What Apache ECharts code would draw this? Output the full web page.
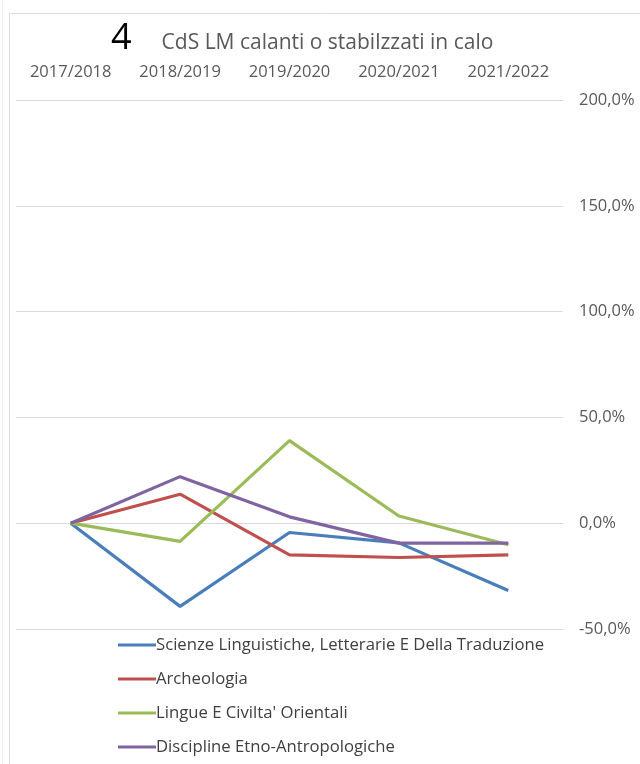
<!DOCTYPE html>
<html>
<head>
<meta charset="utf-8">
<script src="https://cdn.jsdelivr.net/npm/echarts@6/dist/echarts.min.js"></script>
<style>
html,body{margin:0;padding:0;background:#fff;}
#chart{width:640px;height:764px;}
</style>
</head>
<body>
<div id="chart"></div>
<script>
const categories = ['2017/2018', '2018/2019', '2019/2020', '2020/2021', '2021/2022'];
const seriesNames = [
  'Scienze Linguistiche, Letterarie E Della Traduzione',
  'Archeologia',
  "Lingue E Civilta' Orientali",
  'Discipline Etno-Antropologiche'
];
const scienzeLinguistiche = [0, -39.3, -4.4, -9.3, -31.8];
const archeologia = [0, 13.7, -15.0, -16.2, -15.0];
const lingueOrientali = [0, -8.6, 39.0, 3.4, -10.2];
const disciplineEtno = [0, 22.0, 3.0, -9.4, -9.4];
const seriesColors = ['#4a7ebb', '#c0504d', '#9bbb59', '#8064a2'];
const yTicks = { min: -50, max: 200, interval: 50 };

const font = 'Open Sans, Liberation Sans, sans-serif';
const dataSets = [scienzeLinguistiche, archeologia, lingueOrientali, disciplineEtno];

const chart = echarts.init(document.getElementById('chart'), null, { renderer: 'canvas' });
chart.setOption({
  backgroundColor: '#ffffff',
  animation: false,
  graphic: [
    { type: 'line', shape: { x1: 2.5, y1: 0, x2: 2.5, y2: 764 }, style: { stroke: '#efefef', lineWidth: 1 }, z: -1 },
    { type: 'rect', shape: { x: 9.5, y: 13.5, width: 700, height: 800 }, style: { fill: 'none', stroke: '#dcdcdc', lineWidth: 1 }, z: -1 }
  ],
  title: {
    left: 106,
    top: 16,
    text: '{a|4}{b|CdS LM calanti o stabilzzati in calo}',
    textStyle: {
      fontWeight: 'normal',
      rich: {
        a: { fontSize: 36, fontWeight: 'normal', color: '#000000', fontFamily: font, padding: [0, 30, 0, 0], verticalAlign: 'bottom' },
        b: { fontSize: 21, fontWeight: 'normal', color: '#595959', fontFamily: font, verticalAlign: 'bottom', padding: [0, 0, 3, 0] }
      }
    }
  },
  legend: {
    orient: 'vertical',
    left: 113,
    top: 631,
    itemWidth: 38,
    itemHeight: 14,
    itemGap: 16,
    icon: 'path://M0,5.5 L38,5.5 L38,8.5 L0,8.5 Z',
    data: seriesNames,
    textStyle: { fontSize: 16.7, lineHeight: 18, color: '#404040', fontFamily: font, padding: [0, 0, 0, -5] }
  },
  grid: { left: 16, right: 77, top: 100, bottom: 135, containLabel: false },
  xAxis: {
    type: 'category',
    position: 'top',
    data: categories,
    boundaryGap: true,
    axisLine: { show: false },
    axisTick: { show: false },
    axisLabel: { color: '#595959', fontSize: 16.5, fontFamily: font, margin: 19 },
    splitLine: { show: false }
  },
  yAxis: {
    type: 'value',
    position: 'right',
    min: yTicks.min,
    max: yTicks.max,
    interval: yTicks.interval,
    axisLine: { show: false },
    axisTick: { show: false },
    axisLabel: {
      color: '#595959', fontSize: 16.5, fontFamily: font, margin: 16,
      formatter: v => v.toFixed(1).replace('.', ',') + '%'
    },
    splitLine: { lineStyle: { color: '#d9d9d9', width: 1 } }
  },
  series: seriesNames.map((name, i) => ({
    name: name,
    type: 'line',
    data: dataSets[i],
    symbol: 'none',
    color: seriesColors[i],
    lineStyle: { width: 3.2, color: seriesColors[i] }
  }))
});
</script>
</body>
</html>
